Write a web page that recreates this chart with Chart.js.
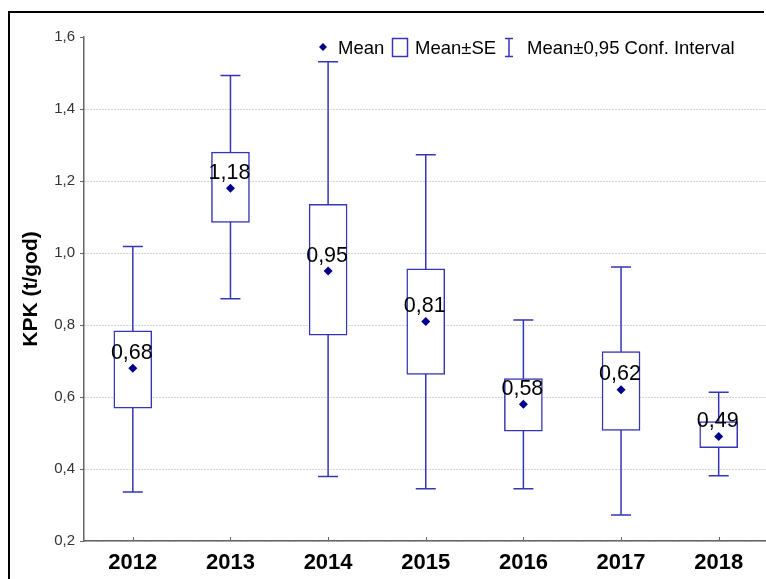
<!DOCTYPE html>
<html>
<head>
<meta charset="utf-8">
<script src="https://cdn.jsdelivr.net/npm/chart.js@4/dist/chart.umd.min.js"></script>
<style>
  html, body { margin: 0; padding: 0; background: #fff; overflow: hidden; width: 766px; height: 579px; }
  #wrap { position: absolute; left: 0; top: 0; width: 772px; height: 579px; }
  #frame { position: absolute; left: 8px; top: 11px; width: 754px; height: 640px;
           border-top: 2px solid #000; border-left: 2px solid #000; pointer-events: none; }
</style>
</head>
<body>
<div id="wrap"><canvas id="c" width="772" height="579"></canvas></div>
<div id="frame"></div>
<script>
// Yearly KPK (t/god): mean, mean ± standard error, mean ± 0.95 confidence interval
const years  = ['2012', '2013', '2014', '2015', '2016', '2017', '2018'];
const means  = [0.68, 1.18, 0.95, 0.81, 0.58, 0.62, 0.49];
const seLow  = [0.569, 1.085, 0.772, 0.663, 0.505, 0.507, 0.459];
const seHigh = [0.784, 1.280, 1.135, 0.956, 0.651, 0.726, 0.532];
const ciLow  = [0.336, 0.873, 0.379, 0.345, 0.345, 0.272, 0.381];
const ciHigh = [1.018, 1.493, 1.531, 1.273, 0.814, 0.961, 0.613];
const yTicks = [0.2, 0.4, 0.6, 0.8, 1.0, 1.2, 1.4, 1.6];

const BLUE = '#3535b8';
const NAVY = '#00008b';
const FONT = "'Liberation Sans', Arial, sans-serif";
Chart.defaults.font.family = FONT;

const fmt = (v, d) => v.toFixed(d).replace('.', ',');

// confidence-interval whiskers, drawn behind the white SE boxes
const whiskers = {
  id: 'whiskers',
  beforeDatasetsDraw(chart) {
    const { ctx, scales: { x, y } } = chart;
    ctx.save();
    ctx.strokeStyle = BLUE;
    ctx.lineWidth = 1.5;
    years.forEach((_, i) => {
      const px = x.getPixelForValue(i);
      const top = y.getPixelForValue(ciHigh[i]);
      const bot = y.getPixelForValue(ciLow[i]);
      ctx.beginPath();
      ctx.moveTo(px, top); ctx.lineTo(px, bot);
      ctx.moveTo(px - 10, top); ctx.lineTo(px + 10, top);
      ctx.moveTo(px - 10, bot); ctx.lineTo(px + 10, bot);
      ctx.stroke();
    });
    ctx.restore();
  }
};

// mean value labels above each diamond
const meanLabels = {
  id: 'meanLabels',
  afterDatasetsDraw(chart) {
    const { ctx } = chart;
    const meta = chart.getDatasetMeta(0);
    ctx.save();
    ctx.font = '21.5px ' + FONT;
    ctx.fillStyle = '#000';
    ctx.textAlign = 'center';
    ctx.textBaseline = 'alphabetic';
    meta.data.forEach((pt, i) => {
      ctx.fillText(fmt(means[i], 2), pt.x - 1, pt.y - 9.5);
    });
    ctx.restore();
  }
};

// small inward ticks on the category axis and the in-plot legend
const extras = {
  id: 'extras',
  afterDraw(chart) {
    const { ctx, scales: { x } } = chart;
    const base = chart.chartArea.bottom;
    ctx.save();
    ctx.strokeStyle = '#666';
    ctx.lineWidth = 1;
    years.forEach((_, i) => {
      const px = Math.round(x.getPixelForValue(i)) + 0.5;
      ctx.beginPath(); ctx.moveTo(px, base); ctx.lineTo(px, base - 4); ctx.stroke();
    });

    // legend
    const by = 54;
    ctx.font = '18.5px ' + FONT;
    ctx.textBaseline = 'alphabetic';
    ctx.textAlign = 'left';
    ctx.fillStyle = NAVY;
    ctx.beginPath();
    ctx.moveTo(323, 43); ctx.lineTo(327, 47); ctx.lineTo(323, 51); ctx.lineTo(319, 47);
    ctx.closePath(); ctx.fill();
    ctx.fillStyle = '#000';
    ctx.fillText('Mean', 338, by);
    ctx.strokeStyle = BLUE;
    ctx.lineWidth = 1.5;
    ctx.strokeRect(392.5, 38.5, 15, 18);
    ctx.fillText('Mean±SE', 415, by);
    ctx.beginPath();
    ctx.moveTo(509, 38.5); ctx.lineTo(509, 56.5);
    ctx.moveTo(505, 38.5); ctx.lineTo(513, 38.5);
    ctx.moveTo(505, 56.5); ctx.lineTo(513, 56.5);
    ctx.stroke();
    ctx.fillText('Mean±0,95 Conf. Interval', 527, by);
    ctx.restore();
  }
};

new Chart(document.getElementById('c'), {
  type: 'bar',
  data: {
    labels: years,
    datasets: [
      {
        type: 'line',
        label: 'Mean',
        data: means,
        showLine: false,
        pointStyle: 'rectRot',
        pointRadius: 4.5,
        pointHoverRadius: 4.5,
        pointBackgroundColor: NAVY,
        pointBorderColor: NAVY,
        pointBorderWidth: 0,
        order: 0
      },
      {
        type: 'bar',
        label: 'Mean±SE',
        data: years.map((_, i) => [seLow[i], seHigh[i]]),
        backgroundColor: '#ffffff',
        borderColor: BLUE,
        borderWidth: 1.5,
        borderSkipped: false,
        barThickness: 38,
        order: 1
      }
    ]
  },
  options: {
    responsive: false,
    animation: false,
    events: [],
    layout: { padding: { top: 37, right: 3, bottom: 0, left: 0 } },
    plugins: { legend: { display: false }, tooltip: { enabled: false } },
    scales: {
      x: {
        offset: true,
        grid: { display: false, drawTicks: false },
        border: { color: '#666', width: 1.5 },
        ticks: { color: '#000', padding: 9, font: { size: 22, weight: 'bold' } },
        afterFit(s) { s.height = 38; }
      },
      y: {
        min: 0.2,
        max: 1.6,
        afterBuildTicks(s) { s.ticks = yTicks.map(v => ({ value: v })); },
        afterFit(s) { s.width = 84; },
        ticks: { color: '#333', padding: 5, font: { size: 15 }, callback: v => fmt(v, 1) },
        grid: {
          color: c => (c.tick && c.tick.value > 1.59) ? 'rgba(0,0,0,0)' : '#a8a8a8',
          lineWidth: 1,
          tickColor: '#666',
          tickLength: 4,
          tickBorderDash: []
        },
        border: { color: '#666', width: 1.5, dash: [1, 2] },
        title: {
          display: true,
          text: 'KPK (t/god)',
          color: '#000',
          font: { size: 21, weight: 'bold' },
          padding: { top: 19, bottom: 0 }
        }
      }
    }
  },
  plugins: [whiskers, meanLabels, extras]
});
</script>
</body>
</html>
